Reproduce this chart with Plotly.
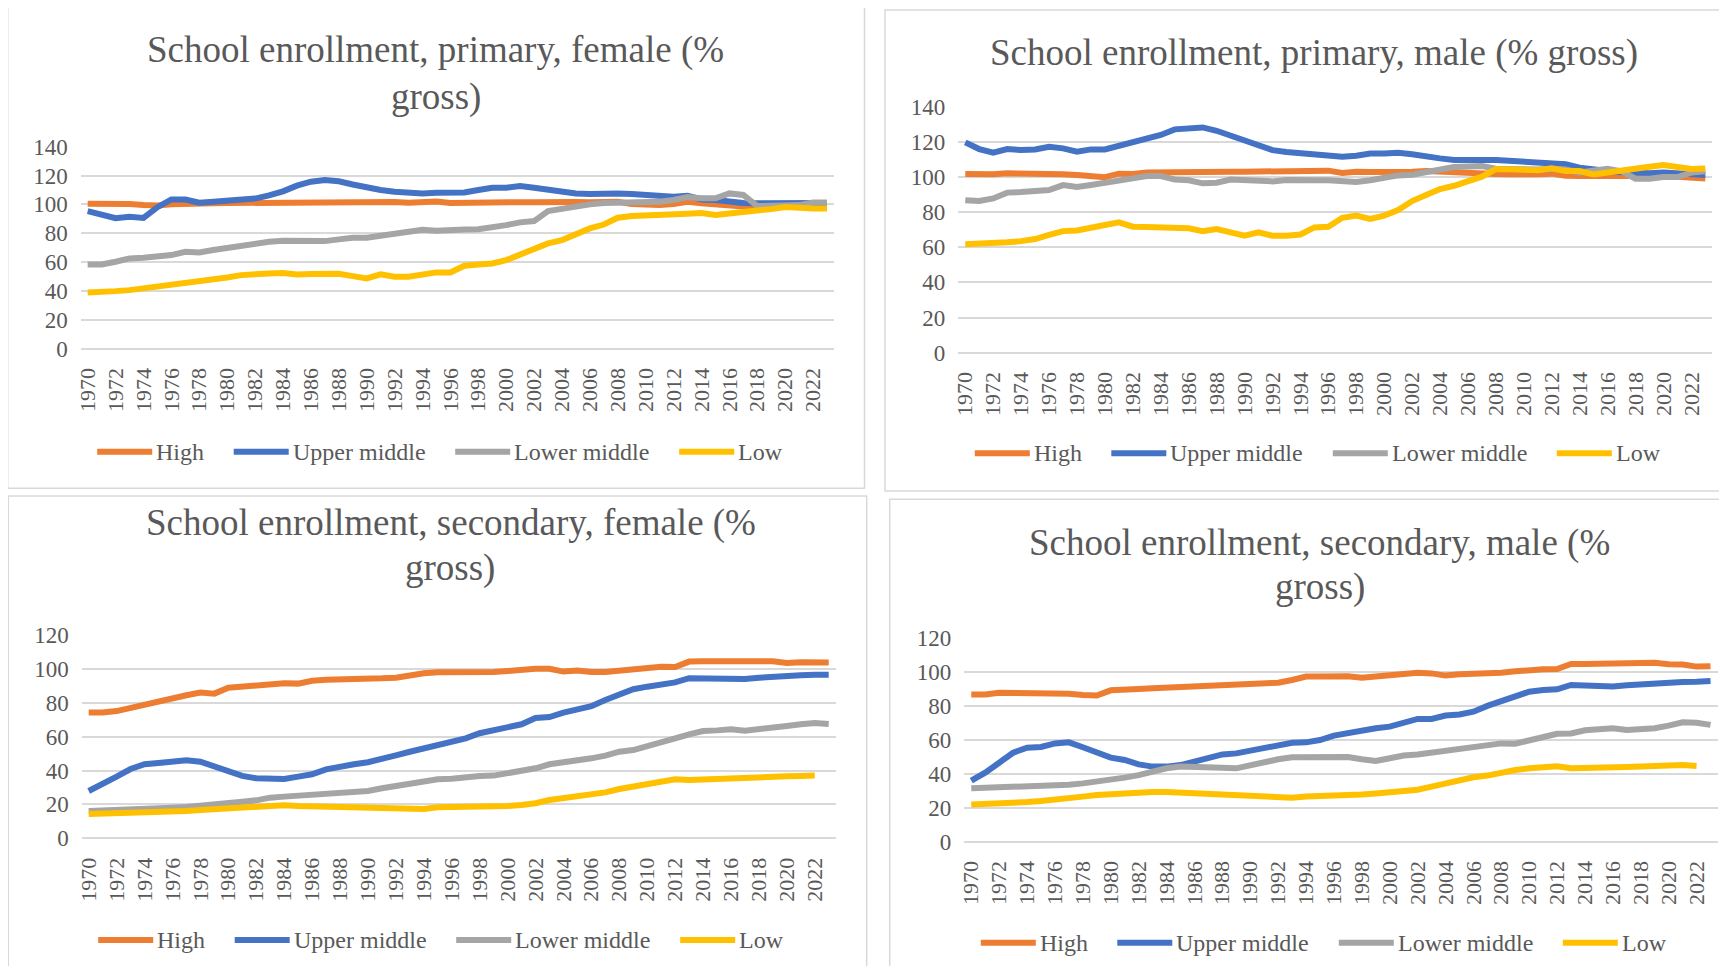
import plotly.graph_objects as go

# the page body keeps an 8px margin, so the figure is drawn 8px in from the window edge
PAGE_W, PAGE_H = 1727, 974
BODY_MARGIN = 8
W, H = PAGE_W - 2 * BODY_MARGIN, PAGE_H - 2 * BODY_MARGIN
FONT = "Liberation Serif"
TEXT_COLOR = "#595959"
GRID_COLOR = "#D9D9D9"

years = list(range(1970, 2024))
series_names = ["High", "Upper middle", "Lower middle", "Low"]
series_colors = ["#ED7D31", "#4472C4", "#A5A5A5", "#FFC000"]

# School enrollment, primary, female (% gross)
prim_f_high = [100.5, 100.5, 100.6, 100.2, 99.5, 99.2, 100.0, 100.5, 100.7, 100.8,
               100.9, 101.0, 101.2, 101.4, 101.5, 101.5, 101.6, 101.4, 101.3, 101.5,
               101.8, 101.8, 101.7, 101.2, 102.0, 102.0, 101.0, 101.3, 101.5, 101.7,
               101.8, 101.5, 101.5, 101.8, 101.8, 101.6, 101.5, 101.8, 101.8, 100.2,
               99.6, 99.5, 100.2, 101.8, 100.8, 99.7, 99.0, 98.5, 98.3, 98.8,
               99.5, 99.5, 99.5, 99.5]
prim_f_upper = [95.3, 92.6, 90.4, 91.4, 90.6, 98.0, 103.4, 103.4, 101.2, 101.8,
                102.3, 103.0, 104.0, 106.2, 109.0, 113.0, 115.7, 116.9, 116.0, 113.8,
                111.5, 110.0, 108.8, 107.7, 107.6, 108.0, 108.3, 108.3, 110.0, 111.5,
                111.5, 112.7, 111.5, 110.0, 109.2, 107.6, 107.1, 107.6, 107.6, 107.1,
                106.7, 106.2, 105.3, 106.0, 103.4, 103.0, 101.8, 101.0, 100.7, 100.7,
                101.0, 101.0, 101.0, 101.0]
prim_f_lower = [58.3, 58.3, 60.2, 62.5, 63.0, 64.1, 64.8, 67.1, 66.6, 68.3,
                69.9, 71.7, 73.4, 74.0, 74.7, 74.5, 75.0, 74.5, 75.7, 76.8,
                76.8, 78.0, 79.1, 81.0, 82.4, 81.7, 81.7, 82.6, 82.8, 83.8,
                85.6, 87.5, 88.4, 95.4, 97.2, 98.8, 100.0, 101.0, 101.0, 101.0,
                101.3, 101.8, 103.0, 105.0, 104.2, 104.2, 107.6, 106.5, 98.8, 98.8,
                99.5, 99.5, 101.3, 101.3]
prim_f_low = [38.9, 38.9, 39.8, 40.5, 41.7, 42.8, 44.0, 45.8, 46.7, 47.4,
              49.3, 50.9, 51.8, 52.1, 52.3, 51.4, 51.6, 51.8, 51.8, 50.2,
              48.6, 51.4, 49.8, 49.8, 50.9, 52.8, 52.8, 57.4, 58.3, 59.0,
              61.3, 64.8, 69.4, 72.9, 75.2, 79.8, 83.3, 86.0, 90.7, 91.9,
              92.1, 92.6, 93.5, 93.5, 94.0, 92.6, 93.7, 94.4, 95.3, 96.7,
              98.1, 97.2, 97.2, 97.2]

# School enrollment, primary, male (% gross)
prim_m_high = [101.7, 101.5, 101.5, 102.1, 102.1, 101.9, 101.7, 101.5, 101.1, 100.9,
               99.9, 101.9, 101.7, 102.5, 102.7, 102.7, 102.5, 102.7, 102.8, 103.0,
               103.0, 103.0, 103.0, 103.2, 103.4, 103.6, 103.6, 102.3, 103.0, 102.8,
               102.7, 102.7, 103.0, 103.4, 103.0, 102.1, 102.1, 101.9, 101.7, 101.5,
               101.1, 101.5, 101.9, 100.7, 100.5, 100.5, 100.7, 101.1, 101.1, 101.1,
               100.7, 100.1, 99.5, 99.2]
prim_m_upper = [119.7, 115.9, 113.8, 115.9, 115.3, 115.7, 117.2, 116.3, 114.4, 115.7,
                115.7, 117.6, 119.7, 121.6, 123.9, 127.1, 128.0, 128.2, 126.3, 123.5,
                120.1, 117.2, 115.3, 114.2, 113.4, 113.0, 112.3, 111.5, 112.1, 113.4,
                113.4, 113.8, 112.9, 111.5, 110.6, 109.7, 109.3, 109.7, 109.7, 109.3,
                108.1, 107.8, 107.4, 107.2, 105.3, 104.0, 103.4, 102.7, 102.1, 102.1,
                102.5, 102.1, 101.5, 101.1]
prim_m_lower = [86.7, 86.3, 87.8, 91.1, 91.4, 92.4, 92.6, 95.4, 94.3, 95.4,
                96.9, 97.9, 99.2, 100.5, 100.5, 98.6, 98.1, 96.4, 96.7, 98.5,
                97.9, 97.5, 97.5, 98.3, 98.6, 98.1, 98.1, 97.7, 97.1, 98.1,
                99.4, 100.9, 101.3, 102.8, 104.3, 105.7, 106.0, 106.2, 104.7, 104.3,
                104.3, 104.3, 104.7, 104.3, 102.5, 103.2, 104.7, 103.2, 99.0, 99.0,
                100.0, 100.0, 102.5, 103.2]
prim_m_low = [61.7, 62.0, 62.0, 62.8, 63.5, 64.7, 67.0, 69.2, 69.6, 70.8,
              72.7, 74.2, 71.7, 71.5, 71.5, 71.1, 70.8, 69.2, 70.4, 68.5,
              66.6, 68.5, 66.6, 66.6, 67.3, 71.3, 71.7, 76.8, 78.0, 76.1,
              78.0, 81.2, 86.3, 89.7, 93.1, 95.0, 97.7, 100.2, 104.5, 104.5,
              103.9, 103.9, 104.9, 103.4, 103.4, 101.5, 102.6, 103.4, 104.5, 105.8,
              106.8, 105.3, 104.5, 104.9]

# School enrollment, secondary, female (% gross)
sec_f_high = [74.2, 74.2, 75.1, 77.1, 79.3, 81.0, 82.6, 84.4, 86.0, 85.4,
              88.9, 89.7, 90.5, 91.1, 91.5, 91.3, 93.0, 93.6, 93.6, 93.6,
              94.0, 94.4, 94.8, 96.4, 97.4, 98.0, 98.0, 98.4, 97.8, 98.2,
              98.8, 99.6, 100.1, 100.1, 98.4, 99.1, 98.2, 98.2, 99.0, 100.0,
              100.9, 101.3, 101.1, 104.3, 104.5, 104.7, 104.5, 104.5, 104.5, 104.5,
              103.5, 103.9, 103.9, 103.7]
sec_f_upper = [27.9, 31.9, 36.4, 40.9, 43.7, 44.5, 45.2, 46.0, 45.2, 42.3,
               38.8, 36.8, 35.4, 34.8, 35.0, 36.4, 37.8, 40.7, 42.5, 43.7,
               44.9, 46.6, 49.0, 51.1, 53.1, 55.0, 57.0, 59.0, 62.0, 63.5,
               65.0, 67.3, 71.0, 71.6, 74.2, 76.0, 78.0, 81.6, 84.6, 88.0,
               89.5, 91.0, 92.0, 94.5, 94.5, 94.3, 93.9, 94.0, 94.8, 95.5,
               95.8, 96.2, 96.5, 96.6]
sec_f_lower = [16.1, 16.3, 16.7, 17.1, 17.5, 17.7, 18.1, 18.5, 19.1, 19.7,
               20.7, 21.6, 22.4, 24.0, 24.6, 25.2, 26.2, 27.0, 27.3, 27.5,
               27.9, 29.5, 30.9, 32.5, 33.8, 34.8, 35.2, 36.4, 36.8, 37.0,
               38.4, 39.9, 41.3, 43.7, 44.7, 46.2, 47.2, 48.8, 51.1, 52.1,
               54.7, 57.0, 59.0, 61.4, 63.3, 63.7, 64.3, 63.5, 64.7, 65.3,
               66.3, 67.3, 68.1, 67.5]
sec_f_low = [14.4, 14.6, 14.8, 15.0, 15.0, 15.1, 15.5, 16.1, 16.7, 17.3,
             17.9, 18.5, 19.1, 19.5, 19.5, 19.1, 18.9, 18.7, 18.5, 18.3,
             18.1, 17.9, 17.7, 17.5, 17.3, 18.3, 18.3, 18.3, 18.5, 18.7,
             19.1, 19.7, 20.7, 22.6, 23.6, 24.8, 26.2, 27.1, 29.1, 30.5,
             31.9, 33.4, 34.8, 34.4, 34.8, 35.4, 35.8, 36.0, 36.2, 36.4,
             36.6, 36.8, 37.0, None]

# School enrollment, secondary, male (% gross)
sec_m_high = [86.8, 86.8, 87.9, 87.7, 88.3, 87.7, 87.3, 87.3, 86.6, 86.2,
              89.3, 89.3, 90.1, 90.5, 90.9, 91.1, 91.9, 92.5, 92.9, 93.0,
              93.2, 93.4, 93.8, 95.4, 97.4, 97.4, 97.8, 97.6, 96.8, 97.4,
              98.0, 98.9, 99.7, 99.3, 98.0, 98.8, 98.9, 99.1, 99.7, 100.5,
              101.5, 101.7, 101.9, 104.9, 104.9, 105.2, 105.0, 105.4, 105.2, 105.6,
              104.7, 104.5, 103.3, 103.5]
sec_m_upper = [36.0, 40.7, 46.6, 52.5, 55.5, 55.9, 58.0, 58.6, 55.7, 53.1,
               49.6, 48.2, 45.6, 44.3, 44.3, 45.2, 47.2, 49.8, 51.5, 52.1,
               53.5, 55.5, 57.0, 58.4, 58.6, 60.0, 62.6, 64.3, 65.9, 66.9,
               67.9, 69.8, 72.4, 72.4, 74.4, 75.1, 76.7, 80.1, 82.6, 86.0,
               88.5, 89.5, 89.9, 92.5, 92.1, 92.1, 91.5, 92.3, 92.9, 93.2,
               93.8, 94.2, 94.4, 94.8]
sec_m_lower = [31.5, 31.7, 32.1, 32.3, 32.5, 32.7, 32.9, 33.6, 34.4, 35.4,
               36.8, 37.8, 39.3, 41.3, 43.3, 44.3, 44.3, 43.9, 43.7, 43.3,
               45.2, 47.2, 48.6, 49.8, 50.0, 49.8, 49.8, 50.0, 48.6, 47.6,
               49.2, 50.8, 51.5, 52.5, 53.7, 54.7, 55.5, 56.7, 58.0, 57.8,
               60.0, 62.0, 63.7, 63.9, 65.7, 66.3, 66.9, 65.9, 66.5, 66.9,
               68.5, 70.4, 70.2, 68.9]
sec_m_low = [22.0, 22.2, 22.8, 23.2, 23.4, 24.0, 24.6, 25.6, 26.6, 27.5,
             28.1, 28.7, 29.1, 29.3, 29.3, 28.9, 28.5, 28.1, 27.9, 27.1,
             26.8, 26.6, 26.2, 26.0, 26.6, 26.9, 26.9, 26.9, 27.9, 28.5,
             29.1, 30.1, 30.7, 32.5, 34.6, 35.8, 38.0, 39.0, 40.9, 42.3,
             43.3, 43.9, 44.5, 43.3, 43.7, 43.3, 43.7, 44.1, 44.3, 44.7,
             44.9, 45.2, 44.7, None]


def px(x):
    # window pixel -> paper fraction
    return (x - BODY_MARGIN) / W


def py(y):
    return 1 - (y - BODY_MARGIN) / H


# window-pixel layout of each chart: plot box (left, right, top, bottom), outer frame,
# title lines (text, centre x, centre y) and legend row y
panels = [
    dict(series=[prim_f_high, prim_f_upper, prim_f_lower, prim_f_low], ymax=140,
         plot=(80.7, 834.0, 146.7, 348.5), frame=(7.7, 7.3, 864.5, 488.3),
         titles=[("School enrollment, primary, female (%", 435.5, 50.0),
                 ("gross)", 436.0, 96.7)],
         legend_y=451.7),
    dict(series=[prim_m_high, prim_m_upper, prim_m_lower, prim_m_low], ymax=140,
         plot=(958.3, 1712.3, 106.7, 352.7), frame=(885.0, 10.0, 1735.0, 491.0),
         titles=[("School enrollment, primary, male (% gross)", 1313.5, 53.3)],
         legend_y=453.3),
    dict(series=[sec_f_high, sec_f_upper, sec_f_lower, sec_f_low], ymax=120,
         plot=(81.7, 835.7, 635.0, 838.3), frame=(8.3, 496.0, 866.7, 980.0),
         titles=[("School enrollment, secondary, female (%", 450.8, 523.3),
                 ("gross)", 450.0, 568.3)],
         legend_y=940.0),
    dict(series=[sec_m_high, sec_m_upper, sec_m_lower, sec_m_low], ymax=120,
         plot=(964.3, 1717.5, 638.3, 841.7), frame=(889.7, 499.3, 1735.0, 980.0),
         titles=[("School enrollment, secondary, male (%", 1319.5, 543.3),
                 ("gross)", 1319.5, 586.7)],
         legend_y=942.7),
]

legend_offsets = [16.5, 153.0, 374.5, 598.5]
legend_line_len = 55

fig = go.Figure()
shapes = []
annotations = []

for i, p in enumerate(panels, start=1):
    sfx = "" if i == 1 else str(i)
    left, right, top, bottom = p["plot"]
    for name, color, values in zip(series_names, series_colors, p["series"]):
        fig.add_trace(go.Scatter(
            x=years, y=values, name=name, mode="lines",
            line=dict(color=color, width=6),
            xaxis="x" + sfx, yaxis="y" + sfx,
            showlegend=False, hoverinfo="x+y+name",
        ))

    fig.layout["xaxis" + sfx] = dict(
        domain=[px(left), px(right)], anchor="y" + sfx, automargin=False,
        range=[1969.5, 2023.5], tickvals=years[::2], tickangle=-90,
        showgrid=False, zeroline=False, showline=False, ticks="",
        ticklabelstandoff=14,
        tickfont=dict(family=FONT, size=22, color=TEXT_COLOR),
    )
    fig.layout["yaxis" + sfx] = dict(
        domain=[py(bottom), py(top)], anchor="x" + sfx, automargin=False,
        range=[0, p["ymax"]], dtick=20, tick0=0,
        showgrid=True, gridcolor=GRID_COLOR, gridwidth=1.5,
        zeroline=True, zerolinecolor=GRID_COLOR, zerolinewidth=1.5,
        showline=False, ticks="", ticklabelstandoff=12,
        tickfont=dict(family=FONT, size=23, color=TEXT_COLOR),
    )

    x0, y0, x1, y1 = p["frame"]
    shapes.append(dict(type="rect", xref="paper", yref="paper",
                       x0=px(x0), x1=px(x1), y0=py(y1), y1=py(y0),
                       line=dict(color=GRID_COLOR, width=1.5)))

    for text, tx, ty in p["titles"]:
        annotations.append(dict(text=text, xref="paper", yref="paper",
                                x=px(tx), y=py(ty), xanchor="center", yanchor="middle",
                                showarrow=False,
                                font=dict(family=FONT, size=37, color=TEXT_COLOR)))

    ly = p["legend_y"]
    for name, color, off in zip(series_names, series_colors, legend_offsets):
        lx = left + off
        shapes.append(dict(type="line", xref="paper", yref="paper",
                           x0=px(lx), x1=px(lx + legend_line_len), y0=py(ly), y1=py(ly),
                           line=dict(color=color, width=6)))
        annotations.append(dict(text=name, xref="paper", yref="paper",
                                x=px(lx + legend_line_len + 2), y=py(ly),
                                xanchor="left", yanchor="middle", showarrow=False,
                                font=dict(family=FONT, size=24, color=TEXT_COLOR)))

fig.update_layout(
    width=W, height=H,
    margin=dict(l=0, r=0, t=0, b=0, pad=0),
    paper_bgcolor="white", plot_bgcolor="white",
    showlegend=False,
    shapes=shapes, annotations=annotations,
)

fig.write_html("out.html")
